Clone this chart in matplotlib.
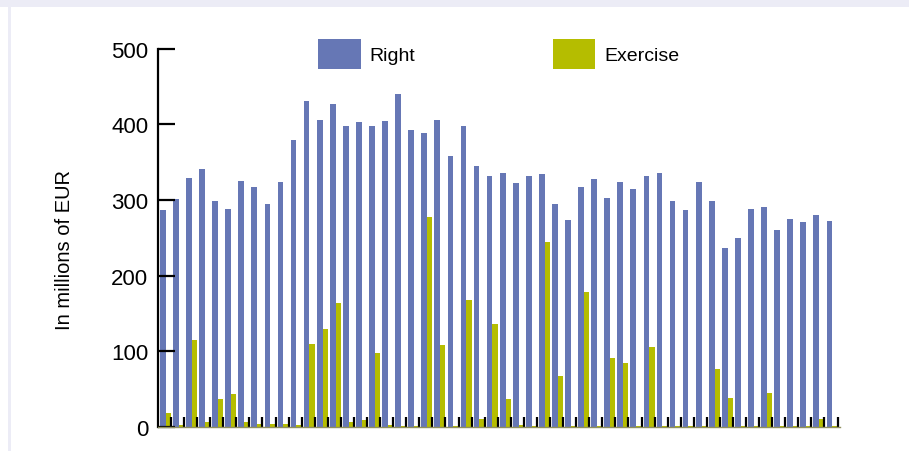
import matplotlib
matplotlib.use('Agg')
import matplotlib.pyplot as plt
from matplotlib.patches import Rectangle, Patch
import numpy as np

plt.rcParams['font.family'] = ['Liberation Sans', 'DejaVu Sans']

# Values (millions of EUR), one per period
right = [287, 301, 329, 341, 299, 288, 325, 317, 295, 324,
         379, 430, 406, 427, 397, 403, 398, 404, 440, 392,
         388, 405, 358, 398, 345, 332, 336, 322, 331, 334,
         295, 273, 317, 327, 303, 324, 315, 332, 336, 299,
         287, 323, 298, 237, 250, 288, 291, 260, 275, 271,
         280, 272]
exercise = [19, 3, 115, 7, 37, 43, 6, 4, 4, 4,
            2, 109, 130, 164, 6, 9, 98, 2, 1, 1,
            278, 108, 1, 168, 11, 136, 37, 2, 1, 244,
            67, 1, 178, 1, 91, 85, 1, 106, 1, 1,
            1, 1, 77, 38, 1, 1, 45, 1, 1, 1,
            11, 1]
series_names = ['Right', 'Exercise']
y_ticks = [0, 100, 200, 300, 400, 500]

blue = '#6677b5'
olive = '#b5bd00'

W, H = 909, 452
fig = plt.figure(figsize=(W / 100, H / 100), dpi=100)
fig.patch.set_facecolor('white')

# light lavender frame: band on top, thin strip down the left
fig.patches.append(Rectangle((0, 1 - 8 / H), 1, 8 / H, transform=fig.transFigure,
                             facecolor='#ececf6', edgecolor='none', zorder=0))
fig.patches.append(Rectangle((8 / W, 0), 3 / W, 1 - 8 / H, transform=fig.transFigure,
                             facecolor='#ececf6', edgecolor='none', zorder=0))

ax = fig.add_axes([158 / W, 24 / H, 682 / W, 378.5 / H])

x = np.arange(len(right))
bw, ew = 0.436, 0.405
ax.bar(x, right, width=bw, align='edge', color=blue, zorder=1)
ax.bar(x + bw, exercise, width=ew, align='edge', color=olive, zorder=1)

ax.set_xlim(-0.153, 52.03)
ax.set_ylim(0, 500)

# spines
for s in ['top', 'right']:
    ax.spines[s].set_visible(False)
ax.spines['left'].set_linewidth(1.6)
ax.spines['left'].set_color('black')
ax.spines['bottom'].set_linewidth(1.0)
ax.spines['bottom'].set_color('#8f8f60')

# ticks
ax.set_yticks(y_ticks)
ax.set_yticklabels([str(v) for v in y_ticks])
ax.tick_params(axis='y', direction='in', length=12, width=1.6, pad=7,
               labelsize=16, colors='black')
ax.set_xticks(x + 0.842)
ax.set_xticklabels([])
ax.tick_params(axis='x', direction='in', length=7, width=1.6, color='black')

fig.text(65 / W, 1 - 250 / H, 'In millions of EUR', rotation=90,
         ha='center', va='center', fontsize=14.5)

# legend across the top
handles = [Patch(facecolor=blue), Patch(facecolor=olive)]
fig.legend(handles, series_names, loc='upper left',
           bbox_to_anchor=(318 / W, 1 - 40 / H), ncol=2, frameon=False,
           fontsize=14, handlelength=2.2, handleheight=2.0,
           handletextpad=0.46, columnspacing=7.05, borderpad=0,
           borderaxespad=0)

fig.savefig('out.png', dpi=100)
